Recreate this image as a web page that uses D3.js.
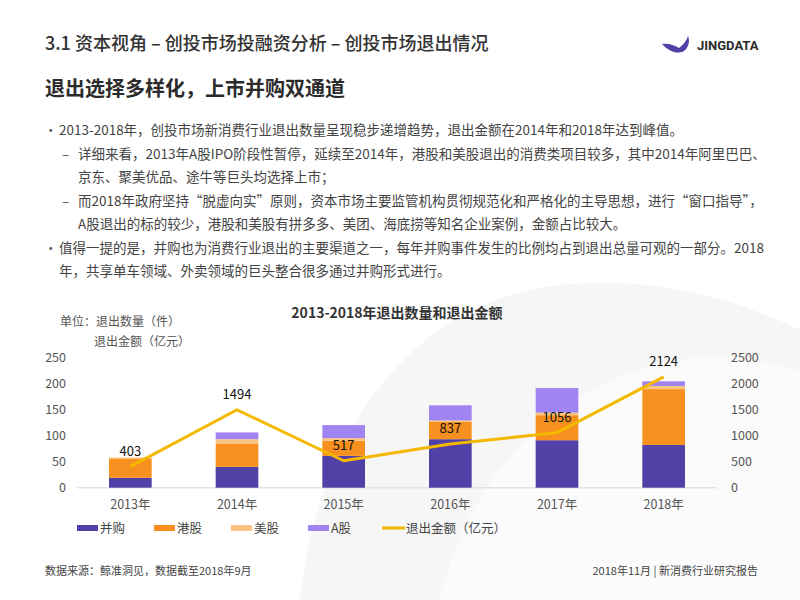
<!DOCTYPE html>
<html>
<head>
<meta charset="utf-8">
<script src="https://cdn.jsdelivr.net/npm/d3@7"></script>
<style>
  body { margin: 0; background: #fff; }
  svg { display: block; font-family: "Noto Sans CJK SC", "Noto Sans", sans-serif; }
</style>
</head>
<body>
<div id="chart"></div>
<script>
// data
const years = ['2013年', '2014年', '2015年', '2016年', '2017年', '2018年'];
const mergers = [19, 40, 61, 93, 91, 82];      // 并购
const hkShares = [37, 44, 29, 33, 48, 107];    // 港股
const usShares = [2, 9, 5, 3, 5, 6];           // 美股
const aShares = [0, 13, 25, 29, 47, 9];        // A股
const exitAmount = [403, 1494, 517, 837, 1056, 2124]; // 退出金额（亿元）
const leftTicks = [0, 50, 100, 150, 200, 250];
const rightTicks = [0, 500, 1000, 1500, 2000, 2500];

const seriesKeys = ['并购', '港股', '美股', 'A股'];
const colors = ['#5140a6', '#f7901e', '#f9c47e', '#a084f2'];
const lineColor = '#f4b800';

const bullets = [
  { x: 59, y: 135, mark: '•', text: '2013-2018年，创投市场新消费行业退出数量呈现稳步递增趋势，退出金额在2014年和2018年达到峰值。' },
  { x: 78, y: 159, mark: '–', text: '详细来看，2013年A股IPO阶段性暂停，延续至2014年，港股和美股退出的消费类项目较多，其中2014年阿里巴巴、' },
  { x: 78, y: 182, text: '京东、聚美优品、途牛等巨头均选择上市；' },
  { x: 78, y: 206, mark: '–', text: '而2018年政府坚持“脱虚向实”原则，资本市场主要监管机构贯彻规范化和严格化的主导思想，进行“窗口指导”，' },
  { x: 78, y: 229, text: 'A股退出的标的较少，港股和美股有拼多多、美团、海底捞等知名企业案例，金额占比较大。' },
  { x: 59, y: 253, mark: '•', text: '值得一提的是，并购也为消费行业退出的主要渠道之一，每年并购事件发生的比例均占到退出总量可观的一部分。2018' },
  { x: 59, y: 276, text: '年，共享单车领域、外卖领域的巨头整合很多通过并购形式进行。' }
];

const width = 800;
const height = 600;

const svg = d3.select('#chart')
  .append('svg')
  .attr('width', width)
  .attr('height', height);

// faint watermark shape behind the chart
svg.append('path')
  .attr('d', 'M300,600 C320,420 420,300 560,285 C650,275 740,300 800,330 L800,600 Z')
  .attr('fill', '#f6f6f6');
svg.append('path')
  .attr('d', 'M440,600 C470,470 560,380 680,360 C730,352 770,360 800,372 L800,600 Z')
  .attr('fill', '#fbfbfb');

// header
svg.append('text')
  .attr('x', 45).attr('y', 50)
  .attr('font-size', 18).attr('font-weight', 500).attr('fill', '#333')
  .text('3.1 资本视角 – 创投市场投融资分析 – 创投市场退出情况');

svg.append('text')
  .attr('x', 45).attr('y', 96)
  .attr('font-size', 20).attr('font-weight', 700).attr('fill', '#2b2b2b')
  .text('退出选择多样化，上市并购双通道');

// logo
const logo = svg.append('g').attr('transform', 'translate(662,36)');
logo.append('path')
  .attr('d', 'M0,8 C6,7 12,9 17,12 C21,9 25,4 26,0 C28,5 27,11 22,15 C17,18 8,17 0,8 Z')
  .attr('fill', '#5140a6');
svg.append('text')
  .attr('x', 697).attr('y', 50)
  .attr('font-size', 13).attr('font-weight', 700).attr('fill', '#2b2b2b')
  .attr('font-family', 'Roboto, sans-serif')
  .text('JINGDATA');

// bullet text
const body = svg.append('g').attr('font-size', 13.5).attr('fill', '#444');
bullets.forEach((b) => {
  if (b.mark) {
    body.append('text')
      .attr('x', b.mark === '•' ? 44 : 62)
      .attr('y', b.y)
      .attr('fill', '#555')
      .text(b.mark);
  }
  body.append('text').attr('x', b.x).attr('y', b.y).text(b.text);
});

// chart title and units
svg.append('text')
  .attr('x', 397).attr('y', 318)
  .attr('text-anchor', 'middle')
  .attr('font-size', 14).attr('font-weight', 700).attr('fill', '#333')
  .text('2013-2018年退出数量和退出金额');

svg.append('text')
  .attr('x', 60).attr('y', 326)
  .attr('font-size', 12).attr('fill', '#555')
  .text('单位：退出数量（件）');
svg.append('text')
  .attr('x', 94).attr('y', 346)
  .attr('font-size', 12).attr('fill', '#555')
  .text('退出金额（亿元）');

// scales
const xScale = d3.scaleBand()
  .domain(years)
  .range([77, 717])
  .paddingInner(0.6)
  .paddingOuter(0.3);

const yScale = d3.scaleLinear().domain([0, 250]).range([487.7, 357.3]);
const yRight = d3.scaleLinear().domain([0, 2500]).range([487.7, 357.3]);

// baseline
svg.append('line')
  .attr('x1', 77).attr('x2', 717)
  .attr('y1', yScale(0)).attr('y2', yScale(0))
  .attr('stroke', '#e3e3e3').attr('stroke-width', 1.5);

// axes
const leftAxis = svg.append('g')
  .attr('transform', 'translate(66,0)')
  .call(d3.axisLeft(yScale).tickValues(leftTicks).tickSize(0).tickPadding(0));
const rightAxis = svg.append('g')
  .attr('transform', 'translate(731,0)')
  .call(d3.axisRight(yRight).tickValues(rightTicks).tickFormat(d3.format('d')).tickSize(0).tickPadding(0));
const bottomAxis = svg.append('g')
  .attr('transform', `translate(0, ${yScale(0)})`)
  .call(d3.axisBottom(xScale).tickSize(0).tickPadding(12));

[leftAxis, rightAxis, bottomAxis].forEach((ax) => {
  ax.select('.domain').remove();
  ax.selectAll('text')
    .attr('font-size', 12.5)
    .attr('fill', '#555')
    .attr('font-family', '"Noto Sans CJK SC", sans-serif');
});

// stacked bars
const table = years.map((year, i) => ({
  year,
  '并购': mergers[i],
  '港股': hkShares[i],
  '美股': usShares[i],
  'A股': aShares[i]
}));

const stacked = d3.stack().keys(seriesKeys)(table);

svg.append('g')
  .selectAll('g')
  .data(stacked)
  .join('g')
  .attr('fill', (d, i) => colors[i])
  .selectAll('rect')
  .data((d) => d)
  .join('rect')
  .attr('x', (d) => xScale(d.data.year))
  .attr('y', (d) => yScale(d[1]))
  .attr('width', xScale.bandwidth())
  .attr('height', (d) => yScale(d[0]) - yScale(d[1]));

// exit amount line
const line = d3.line()
  .x((d, i) => xScale(years[i]) + xScale.bandwidth() / 2)
  .y((d) => yRight(d));

svg.append('path')
  .datum(exitAmount)
  .attr('d', line)
  .attr('fill', 'none')
  .attr('stroke', lineColor)
  .attr('stroke-width', 3)
  .attr('stroke-linejoin', 'round');

svg.append('g')
  .selectAll('text')
  .data(exitAmount)
  .join('text')
  .attr('x', (d, i) => xScale(years[i]) + xScale.bandwidth() / 2)
  .attr('y', (d) => yRight(d) - 11)
  .attr('text-anchor', 'middle')
  .attr('font-size', 13)
  .attr('fill', '#111')
  .text((d) => d);

// legend
const legendItems = [
  { label: '并购', color: colors[0], x: 77 },
  { label: '港股', color: colors[1], x: 154 },
  { label: '美股', color: colors[2], x: 231 },
  { label: 'A股', color: colors[3], x: 308 },
  { label: '退出金额（亿元）', color: lineColor, x: 382, line: true }
];

const legend = svg.append('g').attr('transform', 'translate(0,528)');
legendItems.forEach((item) => {
  if (item.line) {
    legend.append('rect')
      .attr('x', item.x).attr('y', -1.5)
      .attr('width', 23).attr('height', 3)
      .attr('fill', item.color);
  } else {
    legend.append('rect')
      .attr('x', item.x).attr('y', -3)
      .attr('width', 21).attr('height', 6)
      .attr('fill', item.color);
  }
  legend.append('text')
    .attr('x', item.x + (item.line ? 24 : 23))
    .attr('y', 4.5)
    .attr('font-size', 12.5)
    .attr('fill', '#444')
    .text(item.label);
});

// footer
svg.append('text')
  .attr('x', 45).attr('y', 575)
  .attr('font-size', 11).attr('fill', '#444')
  .text('数据来源：鲸准洞见，数据截至2018年9月');
svg.append('text')
  .attr('x', 758).attr('y', 575)
  .attr('text-anchor', 'end')
  .attr('font-size', 11).attr('fill', '#444')
  .text('2018年11月 | 新消费行业研究报告');
</script>
</body>
</html>
